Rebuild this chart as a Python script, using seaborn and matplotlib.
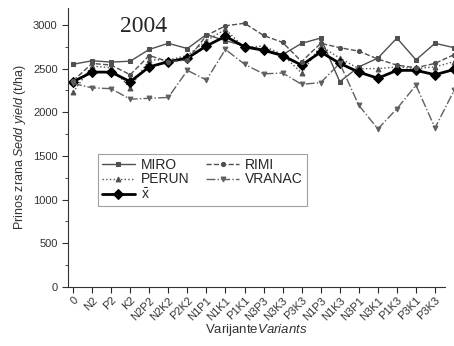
import numpy as np
import pandas as pd
import matplotlib
matplotlib.use("Agg")
import matplotlib.pyplot as plt
import seaborn as sns
from matplotlib.ticker import MultipleLocator

# Varijante (x), prinos zrna po sorti (kg/ha)
varijante = ["0", "N2", "P2", "K2", "N2P2", "N2K2", "P2K2", "N1P1", "N1K1",
             "P1K1", "N3P3", "N3K3", "P3K3", "N1P3", "N1K3", "N3P1", "N3K1",
             "P1K3", "P3K1", "P3K3", "N3P2"]

miro = [2550, 2590, 2575, 2585, 2720, 2790, 2730, 2890, 2820, 2760, 2720,
        2660, 2790, 2850, 2350, 2520, 2620, 2850, 2600, 2790, 2740]
rimi = [2360, 2560, 2540, 2430, 2650, 2580, 2600, 2880, 2990, 3020, 2880,
        2800, 2580, 2790, 2740, 2700, 2610, 2540, 2510, 2560, 2660]
perun = [2230, 2530, 2510, 2280, 2600, 2600, 2650, 2820, 2950, 2740, 2760,
         2660, 2450, 2760, 2620, 2500, 2500, 2520, 2500, 2520, 2580]
vranac = [2330, 2280, 2270, 2150, 2160, 2170, 2480, 2370, 2720, 2550, 2440,
          2450, 2320, 2340, 2560, 2080, 1810, 2040, 2310, 1820, 2250]
prosek = [2350, 2460, 2460, 2350, 2520, 2580, 2620, 2760, 2870, 2750, 2710,
          2650, 2540, 2690, 2560, 2460, 2390, 2480, 2480, 2430, 2490]

sns.set_style("ticks")
plt.rcParams["font.family"] = ["Liberation Sans", "DejaVu Sans"]
plt.rcParams["mathtext.fontset"] = "custom"
plt.rcParams["mathtext.it"] = "Liberation Sans:italic"
plt.rcParams["mathtext.rm"] = "Liberation Sans"

fig = plt.figure(figsize=(4.54, 3.46), dpi=100)
ax = fig.add_axes([0.150, 0.171, 0.830, 0.806])

x = np.arange(len(varijante))
serije = [
    ("MIRO", miro, "-", "s", "#505050", 1.0, 3),
    ("PERUN", perun, ":", "^", "#505050", 1.0, 3.5),
    (r"$\bar{\mathrm{x}}$", prosek, "-", "D", "black", 2.0, 5),
    ("RIMI", rimi, "--", "o", "#505050", 1.0, 3),
    ("VRANAC", vranac, "-.", "v", "#606060", 1.0, 3.5),
]
for ime, vrednosti, ls, mk, boja, lw, ms in serije:
    df = pd.DataFrame({"x": x, "y": vrednosti})
    sns.lineplot(data=df, x="x", y="y", ax=ax, label=ime, color=boja,
                 linestyle=ls, marker=mk, markersize=ms, linewidth=lw,
                 markeredgecolor=boja, clip_on=False)

ax.set_xlim(-0.26, 19.52)
ax.set_ylim(0, 3195)
ax.set_xticks(x[:20])
ax.set_xticklabels(varijante[:20], rotation=45, ha="right",
                   rotation_mode="anchor", fontsize=8, color="#333333")
ax.yaxis.set_major_locator(MultipleLocator(500))
ax.yaxis.set_minor_locator(MultipleLocator(250))
ax.tick_params(axis="y", labelsize=8, colors="#333333", length=4)
ax.tick_params(axis="x", length=4, pad=2)
ax.tick_params(axis="y", which="minor", length=2)
sns.despine(ax=ax)
for s in ["left", "bottom"]:
    ax.spines[s].set_color("#333333")

ax.set_xlabel(r"Varijante$\it{Variants}$", fontsize=9.5, color="#333333",
              labelpad=0)
ax.set_ylabel(r"Prinos zrana $\it{Sedd\ yield}$ (t/ha)", fontsize=9,
              color="#333333")

ax.text(0.20, 0.935, "2004", transform=ax.transAxes, ha="center", va="center",
        fontsize=17, family="Liberation Serif")

leg = ax.legend(loc="lower left", bbox_to_anchor=(0.06, 0.265), ncol=2,
                fontsize=10, frameon=True, fancybox=False, edgecolor="#888888",
                handlelength=2.4, columnspacing=1.2, labelspacing=0.05,
                borderpad=0.3, handletextpad=0.4)
leg.get_frame().set_linewidth(0.8)

fig.savefig("out.png", dpi=100)
